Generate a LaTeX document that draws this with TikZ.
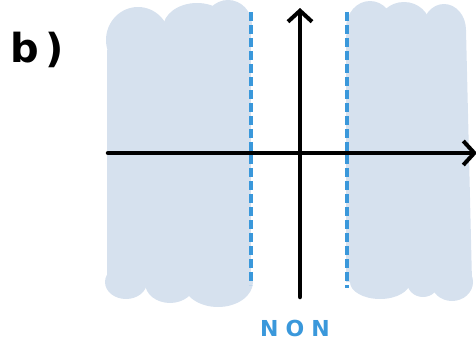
\documentclass[tikz,border=0pt]{standalone}
\usepackage{fontspec}
\setmainfont{DejaVu Sans}
\usetikzlibrary{arrows.meta}
\definecolor{blobfill}{HTML}{D6E1EE}
\definecolor{dashblue}{HTML}{3A98DB}
\tikzset{
  blob/.style={fill=blobfill, draw=none},
  axis/.style={line width=4.5pt, -{Straight Barb[length=11pt,width=24pt,line width=4pt]}, line cap=round},
  limitline/.style={dashblue, line width=3.5pt, dash pattern=on 9pt off 4pt},
}
\begin{document}
\begin{tikzpicture}[x=1pt,y=-1pt]
\useasboundingbox (0,0) rectangle (476,340);
% left shaded region
\fill[blob] (107,50) rectangle (251,282);
\fill[blob] (137,28) rectangle (251,50);
\fill[blob] (138,40) ellipse [x radius=32, y radius=33];
\fill[blob] (197,28) ellipse [x radius=34, y radius=25];
\fill[blob] (228,25) ellipse [x radius=24, y radius=25];
\fill[blob] (126,282) ellipse [x radius=21, y radius=17];
\fill[blob] (170,283) ellipse [x radius=25, y radius=20];
\fill[blob] (218,282) ellipse [x radius=35, y radius=25];
% right shaded region
\fill[blob] (346,35) -- (370,25) -- (466,30) -- (472,282) -- (346,282) -- cycle;
\fill[blob] (370,28) ellipse [x radius=24, y radius=27];
\fill[blob] (404,26) ellipse [x radius=26, y radius=24];
\fill[blob] (444,30) ellipse [x radius=22, y radius=26];
\fill[blob] (380,282) ellipse [x radius=30, y radius=17];
\fill[blob] (423,282) ellipse [x radius=16, y radius=15];
\fill[blob] (452,282) ellipse [x radius=21, y radius=19];
% dashed boundaries
\coordinate (dl1) at (251,12);
\coordinate (dl2) at (251,285);
\coordinate (dr1) at (347,12);
\coordinate (dr2) at (347,288);
\draw[limitline] (dl1) -- (dl2);
\draw[limitline] (dr1) -- (dr2);
% axes
\coordinate (xs) at (108,153);
\coordinate (xe) at (477,153);
\coordinate (ys) at (300,297);
\coordinate (ye) at (300,8);
\draw[axis] (xs) -- (xe);
\draw[axis] (ys) -- (ye);
% labels
\node[font=\bfseries\fontsize{40}{40}\selectfont, anchor=base west, inner sep=0pt] (lbl) at (10,62) {b\,)};
\node[font=\bfseries\fontsize{22}{22}\selectfont, text=dashblue, anchor=base, inner sep=0pt] (non) at (295,336) {N\hspace{7pt}O\hspace{7pt}N};
\end{tikzpicture}
\end{document}
